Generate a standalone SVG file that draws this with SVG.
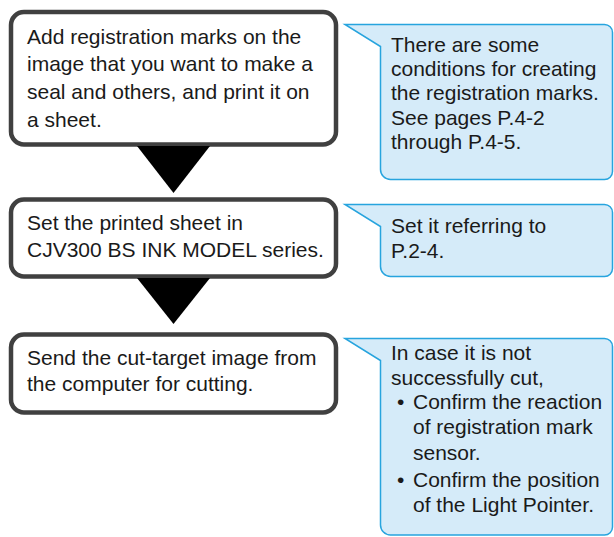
<svg xmlns="http://www.w3.org/2000/svg" width="614" height="537" viewBox="0 0 614 537">
<style>
.step{fill:#ffffff;stroke:#404040;stroke-width:4.5}
.note{fill:#d5ebf9;stroke:#27a4de;stroke-width:1.5}
.arrow{fill:#000000}
text{font-family:"Liberation Sans",Arial,sans-serif;font-size:21px;fill:#1a1a1a}
</style>
<g id="step1">
<rect class="step" x="11" y="12" width="325" height="132.5" rx="13"/>
<text x="27" y="43.5">Add registration marks on the</text>
<text x="27" y="71.3">image that you want to make a</text>
<text x="27" y="99">seal and others, and print it on</text>
<text x="27" y="126.8">a sheet.</text>
</g>
<g id="step2">
<rect class="step" x="11" y="199.5" width="325" height="77" rx="13"/>
<text x="27" y="230">Set the printed sheet in</text>
<text x="27" y="256.5">CJV300 BS INK MODEL series.</text>
</g>
<g id="step3">
<rect class="step" x="11" y="334.5" width="325" height="78" rx="13"/>
<text x="27" y="365">Send the cut-target image from</text>
<text x="27" y="391">the computer for cutting.</text>
</g>
<g id="connectors">
<polygon class="arrow" points="137,146 210,146 173.5,193"/>
<polygon class="arrow" points="137,278 210,278 173.5,324"/>
</g>
<g id="note1">
<path class="note" d="M345,24.5 L604.5,24.5 A8,8 0 0 1 612.5,32.5 L612.5,171.5 A8,8 0 0 1 604.5,179.5 L390.5,179.5 A10,10 0 0 1 380.5,169.5 L380.5,46.5 Z"/>
<text x="391" y="51.7">There are some</text>
<text x="391" y="76">conditions for creating</text>
<text x="391" y="100.3">the registration marks.</text>
<text x="391" y="124.6">See pages P.4-2</text>
<text x="391" y="148.5">through P.4-5.</text>
</g>
<g id="note2">
<path class="note" d="M345,204.5 L604.5,204.5 A8,8 0 0 1 612.5,212.5 L612.5,268.5 A8,8 0 0 1 604.5,276.5 L390.5,276.5 A10,10 0 0 1 380.5,266.5 L380.5,226.5 Z"/>
<text x="391" y="233.3">Set it referring to</text>
<text x="391" y="258.3">P.2-4.</text>
</g>
<g id="note3">
<path class="note" d="M345,338.5 L604.5,338.5 A8,8 0 0 1 612.5,346.5 L612.5,527 A8,8 0 0 1 604.5,535 L390.5,535 A10,10 0 0 1 380.5,525 L380.5,360.5 Z"/>
<text x="391" y="360">In case it is not</text>
<text x="391" y="384.5">successfully cut,</text>
<text x="397" y="409">•</text>
<text x="413" y="409">Confirm the reaction</text>
<text x="413" y="434">of registration mark</text>
<text x="413" y="459.5">sensor.</text>
<text x="397" y="487">•</text>
<text x="413" y="487">Confirm the position</text>
<text x="413" y="512">of the Light Pointer.</text>
</g>
</svg>
